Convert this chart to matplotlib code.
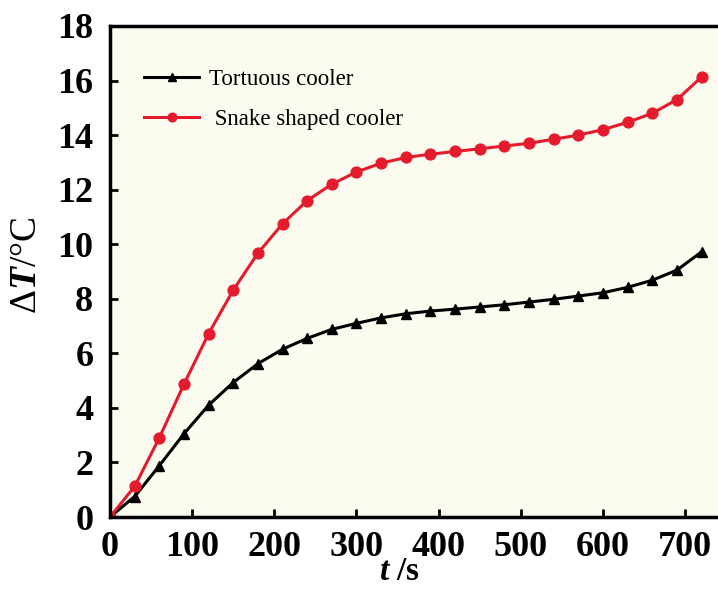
import matplotlib
matplotlib.use("Agg")
import matplotlib.pyplot as plt

# Data
t = [0, 30, 60, 90, 120, 150, 180, 210, 240, 270, 300, 330, 360, 390, 420,
     450, 480, 510, 540, 570, 600, 630, 660, 690, 720]
tortuous = [0, 0.75, 1.88, 3.05, 4.1, 4.93, 5.62, 6.15, 6.55, 6.88, 7.1, 7.3,
            7.45, 7.55, 7.62, 7.7, 7.78, 7.88, 7.98, 8.1, 8.22, 8.42, 8.68,
            9.05, 9.72]
snake = [0, 1.12, 2.9, 4.87, 6.72, 8.32, 9.67, 10.75, 11.6, 12.2, 12.65, 12.97,
         13.18, 13.3, 13.4, 13.5, 13.6, 13.7, 13.85, 14.0, 14.2, 14.47, 14.8,
         15.3, 16.13]
xticks = [0, 100, 200, 300, 400, 500, 600, 700]
yticks = [0, 2, 4, 6, 8, 10, 12, 14, 16, 18]
labels = ["Tortuous cooler", " Snake shaped cooler"]

plt.rcParams['font.family'] = ['Liberation Serif', 'DejaVu Serif']
plt.rcParams['mathtext.fontset'] = 'custom'
plt.rcParams['mathtext.it'] = 'Liberation Serif:italic:bold'
plt.rcParams['mathtext.rm'] = 'Liberation Serif'

fig = plt.figure(figsize=(7.18, 5.98), dpi=100)
ax = fig.add_axes([110/718, 81/598, 608/718, 491/598])
ax.set_facecolor('#FCFBF0')

red = '#E31B2C'
ax.plot(t, tortuous, color='black', lw=2.2, marker='^', ms=7.2, label=labels[0])
ax.plot(t, snake, color=red, lw=2.2, marker='o', ms=7.8, label=labels[1])

ax.set_xlim(0, 740)
ax.set_ylim(0, 18)
ax.set_xticks(xticks)
ax.set_yticks(yticks)
ax.tick_params(direction='in', length=6, width=2, labelsize=26)
for lab in ax.get_xticklabels() + ax.get_yticklabels():
    lab.set_fontweight('bold')
ax.tick_params(axis='y', pad=12)
ax.tick_params(axis='x', pad=10)

for s in ['left', 'bottom', 'top']:
    ax.spines[s].set_linewidth(2.5)
ax.spines['right'].set_visible(False)

ax.set_xlabel(r'$t$ /s', fontsize=24, fontweight='bold')
ax.xaxis.set_label_coords((400-110)/608, (517-572)/491)
ax.xaxis.label.set_va('center')
ax.set_ylabel(r'Δ$T$/°C', fontsize=27)
ax.yaxis.set_label_coords((27-110)/608, (517-265)/491)
ax.yaxis.label.set_va('center')

leg = ax.legend(loc='upper left', bbox_to_anchor=(0.022, 0.955), frameon=False,
                fontsize=16.5, handlelength=2.4, handletextpad=0.45,
                labelspacing=0.85, markerscale=0.8)

fig.savefig('out.png', dpi=100, facecolor='white')
